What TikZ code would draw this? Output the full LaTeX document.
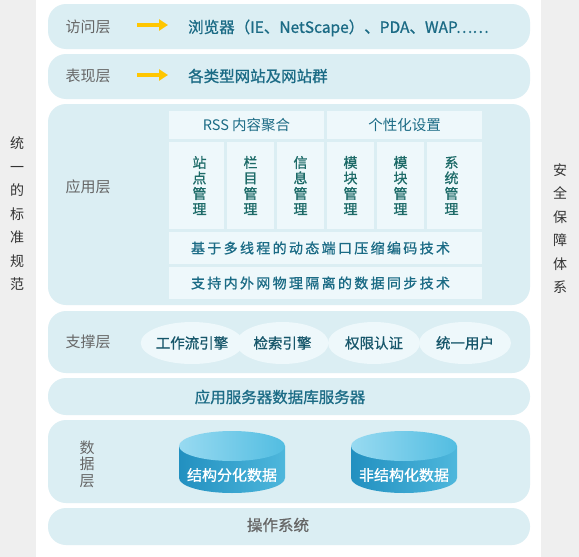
\documentclass[tikz,border=0pt]{standalone}
\usepackage{fontspec}
\setmainfont{Noto Sans CJK SC}
\newfontfamily\medf[FakeBold=0.9]{Noto Sans CJK SC}
\usetikzlibrary{arrows.meta,shapes.geometric}
\definecolor{sidec}{HTML}{EFEFEF}
\definecolor{bandc}{HTML}{DBEEF3}
\definecolor{cellc}{HTML}{EEF8FB}
\definecolor{greyc}{HTML}{666666}
\definecolor{bluec}{HTML}{1B6B85}
\definecolor{greenc}{HTML}{1D6B68}
\definecolor{arrowc}{HTML}{FFC600}
\definecolor{sidetext}{HTML}{333333}
\definecolor{cylside1}{HTML}{2290C0}
\definecolor{cylside2}{HTML}{4EB7DC}
\definecolor{cyltop1}{HTML}{98DAF1}
\definecolor{cyltop2}{HTML}{52BDE1}
\begin{document}
\begin{tikzpicture}[x=1pt,y=-1pt,
  band/.style={rectangle, fill=bandc, rounded corners=18pt, minimum width=482pt, inner sep=0pt},
  cellbox/.style={rectangle, fill=cellc, inner sep=0pt},
  lbl/.style={text=greyc, font=\fontsize{15}{16}\selectfont},
  bluetxt/.style={text=bluec, font=\fontsize{15.5}{17}\selectfont\medf},
  celltxt/.style={text=bluec, font=\fontsize{14.5}{16}\selectfont},
  vtxt/.style={text=greenc, align=center, font=\fontsize{14}{15.5}\selectfont\medf},
  sidetxt/.style={text=sidetext, align=center, font=\fontsize{14}{23.5}\selectfont},
  ell/.style={ellipse, fill=cellc, minimum width=92pt, minimum height=42pt, inner sep=0pt, text=bluec!80!black, font=\fontsize{14.5}{16}\selectfont\medf},
  yarrow/.style={draw=arrowc, line width=4.5pt, -{Triangle[length=9pt,width=11pt]}},
  cyltxt/.style={text=white, font=\fontsize{15}{16}\selectfont\medf}
]
\useasboundingbox (0,0) rectangle (579,557);
\fill[sidec] (0,0) rectangle (36,557);
\fill[white] (36,0) rectangle (541,557);
\fill[sidec] (541,0) rectangle (579,557);

% side texts
\node[sidetxt] (left) at (17,214) {统\\一\\的\\标\\准\\规\\范};
\node[sidetxt] (right) at (560,228.5) {安\\全\\保\\障\\体\\系};

% bands
\node[band, minimum height=45pt] (b1) at (289,26.5) {};
\node[band, minimum height=45pt] (b2) at (289,76.5) {};
\node[band, minimum height=201pt] (b3) at (289,204.5) {};
\node[band, minimum height=62pt] (b4) at (289,342) {};
\node[band, minimum height=37pt] (b5) at (289,396.5) {};
\node[band, minimum height=83pt] (b6) at (289,461.5) {};
\node[band, minimum height=37pt] (b7) at (289,526.5) {};

% layer 1 & 2
\node[lbl] (l1) at (88,27) {访问层};
\coordinate (a1s) at (137,25);
\coordinate (a1e) at (168,25);
\draw[yarrow] (a1s) -- (a1e);
\node[bluetxt, anchor=west, inner sep=0pt] (t1) at (188,28) {浏览器（IE、NetScape）、PDA、WAP……};

\node[lbl] (l2) at (88,76) {表现层};
\coordinate (a2s) at (137,75);
\coordinate (a2e) at (168,75);
\draw[yarrow] (a2s) -- (a2e);
\node[bluetxt, anchor=west, inner sep=0pt] (t2) at (188,76) {各类型网站及网站群};

% application layer
\node[lbl] (l3) at (88,187) {应用层};
\node[cellbox, minimum width=155pt, minimum height=28pt] (rss) at (246.5,125) {};
\node[celltxt] at (rss) {RSS 内容聚合};
\node[cellbox, minimum width=155pt, minimum height=28pt] (gx) at (404.5,125) {};
\node[celltxt] at (gx) {个性化设置};

\node[cellbox, minimum width=55pt, minimum height=87pt] (v1) at (196.5,185.5) {};
\node[cellbox, minimum width=47pt, minimum height=87pt] (v2) at (250.5,185.5) {};
\node[cellbox, minimum width=47pt, minimum height=87pt] (v3) at (300.5,185.5) {};
\node[cellbox, minimum width=47pt, minimum height=87pt] (v4) at (350.5,185.5) {};
\node[cellbox, minimum width=47pt, minimum height=87pt] (v5) at (400.5,185.5) {};
\node[cellbox, minimum width=55pt, minimum height=87pt] (v6) at (454.5,185.5) {};
\node[vtxt] at ([xshift=3pt]v1) {站\\点\\管\\理};
\node[vtxt] at (v2) {栏\\目\\管\\理};
\node[vtxt] at (v3) {信\\息\\管\\理};
\node[vtxt] at (v4) {模\\块\\管\\理};
\node[vtxt] at (v5) {模\\块\\管\\理};
\node[vtxt] at ([xshift=-3pt]v6) {系\\统\\管\\理};

\node[cellbox, minimum width=313pt, minimum height=32pt] (r1) at (325.5,248) {};
\node[celltxt, font=\fontsize{14}{16}\selectfont\medf] at ([xshift=-5pt]r1) {基\,于\,多\,线\,程\,的\,动\,态\,端\,口\,压\,缩\,编\,码\,技\,术};
\node[cellbox, minimum width=313pt, minimum height=32pt] (r2) at (325.5,283) {};
\node[celltxt, font=\fontsize{14}{16}\selectfont\medf] at ([xshift=-5pt]r2) {支\,持\,内\,外\,网\,物\,理\,隔\,离\,的\,数\,据\,同\,步\,技\,术};

% support layer
\node[lbl] (l4) at (88,342) {支撑层};
\node[ell] (e1) at (192,343) {工作流引擎};
\node[ell] (e2) at (282.5,343) {检索引擎};
\node[ell] (e3) at (374,343) {权限认证};
\node[ell] (e4) at (465,343) {统一用户};

% server band
\node[bluetxt] (t5) at (280,397) {应用服务器数据库服务器};

% data layer
\node[lbl, align=center, font=\fontsize{15}{16.5}\selectfont] (l6) at (87,464) {数\\据\\层};
\foreach \cx/\nm/\tx in {232/c1/结构分化数据, 404/c2/非结构化数据}{
  \shade[left color=cylside1, right color=cylside2]
    (\cx-53,446) -- (\cx-53,478) arc[start angle=180, end angle=360, x radius=53pt, y radius=15pt] -- (\cx+53,446) -- cycle;
  \shade[left color=cyltop1, right color=cyltop2] (\cx,446) ellipse [x radius=53pt, y radius=15pt];
  \node[cyltxt] (\nm) at (\cx,475) {\tx};
}

% OS
\node[lbl, font=\fontsize{15.5}{17}\selectfont\medf, text=greyc] (t7) at (278,525) {操作系统};
\end{tikzpicture}
\end{document}
